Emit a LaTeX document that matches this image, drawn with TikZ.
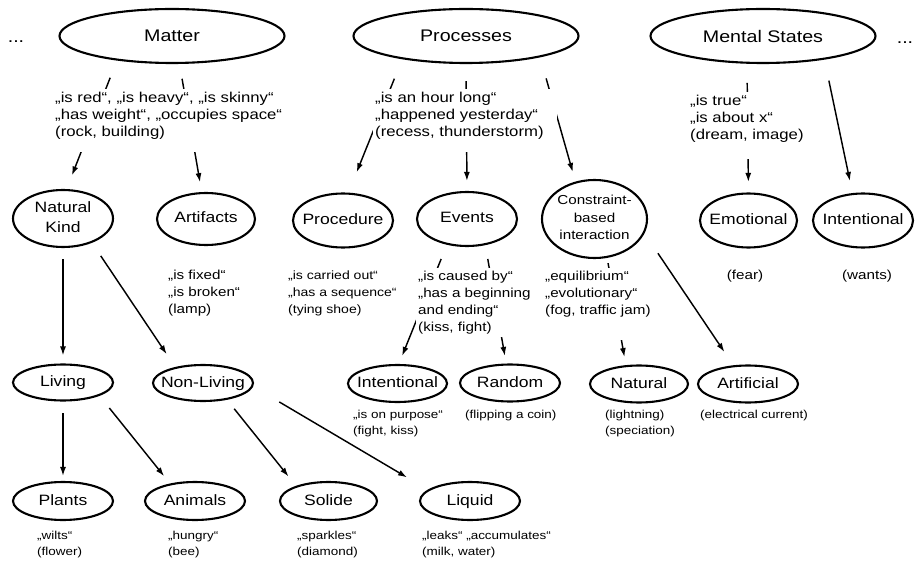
\documentclass[tikz,border=0pt]{standalone}
\usepackage{fontspec}
\setmainfont{Liberation Sans}[FakeStretch=1.17]
\usetikzlibrary{shapes.geometric, arrows.meta}
\newcommand{\ovtext}[1]{\makebox[0pt]{\begin{tabular}{@{}c@{}}#1\end{tabular}}}
\newcommand{\padbelow}[1]{\rule[-#1]{0pt}{#1}}
\tikzset{
  ontroot/.style  = {ellipse, draw, line width=2.1pt, inner sep=0pt,
                     minimum width=225pt, minimum height=54pt,
                     font=\fontsize{16.8}{20}\selectfont},
  ontcat/.style   = {ellipse, draw, line width=2.1pt, inner sep=0pt,
                     minimum width=100pt, minimum height=54pt,
                     font=\fontsize{15}{20}\selectfont},
  ontleaf/.style  = {ontcat, minimum height=37pt},
  ontdesc/.style  = {anchor=north west, align=left, fill=white,
                     inner xsep=2pt, inner ysep=3pt,
                     font=\fontsize{14.3}{17.2}\selectfont},
  ontnote/.style  = {ontdesc, font=\fontsize{13}{17}\selectfont},
  ontsmall/.style = {anchor=north west, align=left, inner sep=0pt,
                     font=\fontsize{11.5}{15.5}\selectfont},
  ontarrow/.style = {-{Latex[length=9pt,width=6pt]}, line width=1.45pt}
}

\begin{document}
\begin{tikzpicture}[x=1pt, y=-1pt]
\useasboundingbox (0,0) rectangle (915,561);

\node[ontroot] (matter)    at (172,36) {Matter};
\node[ontroot] (processes) at (466,36) {Processes};
\node[ontroot] (mental)    at (763,36) {Mental States};
\node[font=\fontsize{16.8}{20}\selectfont] (dotsl) at (16,42) {...};
\node[font=\fontsize{16.8}{20}\selectfont] (dotsr) at (905,43) {...};

\node[ontcat, minimum height=57pt] (natkind) at (63,218.5) {\ovtext{Natural\\Kind}};
\node[ontcat, minimum width=98pt, minimum height=52pt] (artifacts) at (206,219) {\ovtext{Artifacts}};
\node[ontcat] (procedure) at (343,220.5) {\ovtext{Procedure}};
\node[ontcat] (events)    at (467,219) {\ovtext{Events}};
\node[ontcat, minimum width=105pt, minimum height=78pt, font=\fontsize{13}{17.5}\selectfont]
  (constraint) at (594.5,219) {\ovtext{Constraint-\\based\\interaction}};
\node[ontcat, minimum width=97pt] (emotional) at (748.5,220.5) {\ovtext{Emotional}};
\node[ontcat] (mintent)   at (863,220.5) {\ovtext{Intentional}};

\node[ontleaf, minimum height=36pt] (living)    at (63,382.5) {\ovtext{Living}};
\node[ontleaf, minimum height=36pt] (nonliving) at (203,383) {\ovtext{Non-Living}};
\node[ontleaf, minimum width=99pt] (eintent)    at (397.5,383.5) {\ovtext{Intentional}};
\node[ontleaf] (random)     at (510,383) {\ovtext{Random}};
\node[ontleaf, minimum width=98pt] (natural)    at (639,384) {\ovtext{Natural}};
\node[ontleaf] (artificial) at (748,384) {\ovtext{Artificial}};

\node[ontleaf, minimum height=38pt] (plants)  at (63,501) {\ovtext{Plants}};
\node[ontleaf, minimum height=38pt] (animals) at (195,501) {\ovtext{Animals}};
\node[ontleaf, minimum width=97pt, minimum height=38pt] (solide) at (328.5,501) {\ovtext{Solide}};
\node[ontleaf, minimum height=38pt] (liquid)  at (470,501) {\ovtext{Liquid}};

\draw[ontarrow, shorten <=18.5pt, shorten >=14.6pt] (matter.204) -- (natkind.83);
\draw[ontarrow, shorten <=15pt, shorten >=10pt] (matter.285) -- (artifacts.99);
\draw[ontarrow, shorten <=21pt, shorten >=22pt] (processes.200) -- (procedure.79);
\draw[ontarrow, shorten <=17pt, shorten >=10pt] (processes.270) -- (events.90);
\draw[ontarrow, shorten <=22pt, shorten >=10pt] (processes.344) -- (constraint.117);
\draw[ontarrow, shorten <=19pt, shorten >=10.5pt] (mental.240) -- (emotional.90);
\draw[ontarrow, shorten <=21.5pt, shorten >=12.3pt] (mental.339) -- (mintent.111);
\draw[ontarrow, shorten <=11pt, shorten >=8pt] (natkind.270) -- (living.90);
\draw[ontarrow, shorten <=15.7pt, shorten >=15.4pt] (natkind.320) -- (nonliving.150);
\draw[ontarrow, shorten <=15.3pt, shorten >=8.7pt] (events.232) -- (eintent.86);
\draw[ontarrow, shorten <=14pt, shorten >=7.7pt] (events.305) -- (random.101);
\draw[ontarrow, shorten <=5.3pt, shorten >=8.2pt] (constraint.288) -- (natural.125);
\draw[ontarrow, shorten <=24pt, shorten >=16pt] (constraint.344) -- (artificial.128);
\draw[ontarrow, shorten <=11.5pt, shorten >=5pt] (living.270) -- (plants.90);
\draw[ontarrow, shorten <=15.6pt, shorten >=9.4pt] (living.340) -- (animals.145);
\draw[ontarrow, shorten <=11.5pt, shorten >=12pt] (nonliving.325) -- (solide.155);
\draw[ontarrow, shorten <=30.3pt, shorten >=24.2pt] (nonliving.356) -- (liquid.165);

\node[ontdesc] (matterdesc) at (53,89) {„is red“, „is heavy“, „is skinny“\\„has weight“, „occupies space“\\(rock, building)\padbelow{12pt}};
\node[ontdesc, text width=180pt] (procdesc) at (373,89) {„is an hour long“\\„happened yesterday“\\(recess, thunderstorm)\padbelow{12pt}};
\node[ontdesc] (mentdesc)   at (688,92) {„is true“\\„is about x“\\(dream, image)\padbelow{16pt}};

\node[ontnote] (artdesc)    at (166,267) {„is fixed“\\„is broken“\\(lamp)};
\node[ontnote, font=\fontsize{12}{17}\selectfont] (pdurdesc) at (286,268) {„is carried out“\\„has a sequence“\\(tying shoe)};
\node[ontnote] (eventdesc)  at (416,268) {„is caused by“\\„has a beginning\\and ending“\\(kiss, fight)};
\node[ontnote] (constrdesc) at (543,268) {„equilibrium“\\„evolutionary“\\(fog, traffic jam)\padbelow{22pt}};
\node[ontnote, anchor=north] (emodesc)  at (745,267) {(fear)};
\node[ontnote, anchor=north] (wantdesc) at (867,267) {(wants)};

\node[ontsmall] (eintdesc)  at (353,410) {„is on purpose“\\(fight, kiss)};
\node[ontsmall] (randdesc)  at (465,410) {(flipping a coin)};
\node[ontsmall] (natdesc)   at (605,410) {(lightning)\\(speciation)};
\node[ontsmall] (artfdesc)  at (700,410) {(electrical current)};
\node[ontsmall] (plantdesc) at (37,531) {„wilts“\\(flower)};
\node[ontsmall] (animdesc)  at (168,531) {„hungry“\\(bee)};
\node[ontsmall] (soliddesc) at (297,531) {„sparkles“\\(diamond)};
\node[ontsmall] (liqdesc)   at (422,531) {„leaks“ „accumulates“\\(milk, water)};
\end{tikzpicture}
\end{document}
